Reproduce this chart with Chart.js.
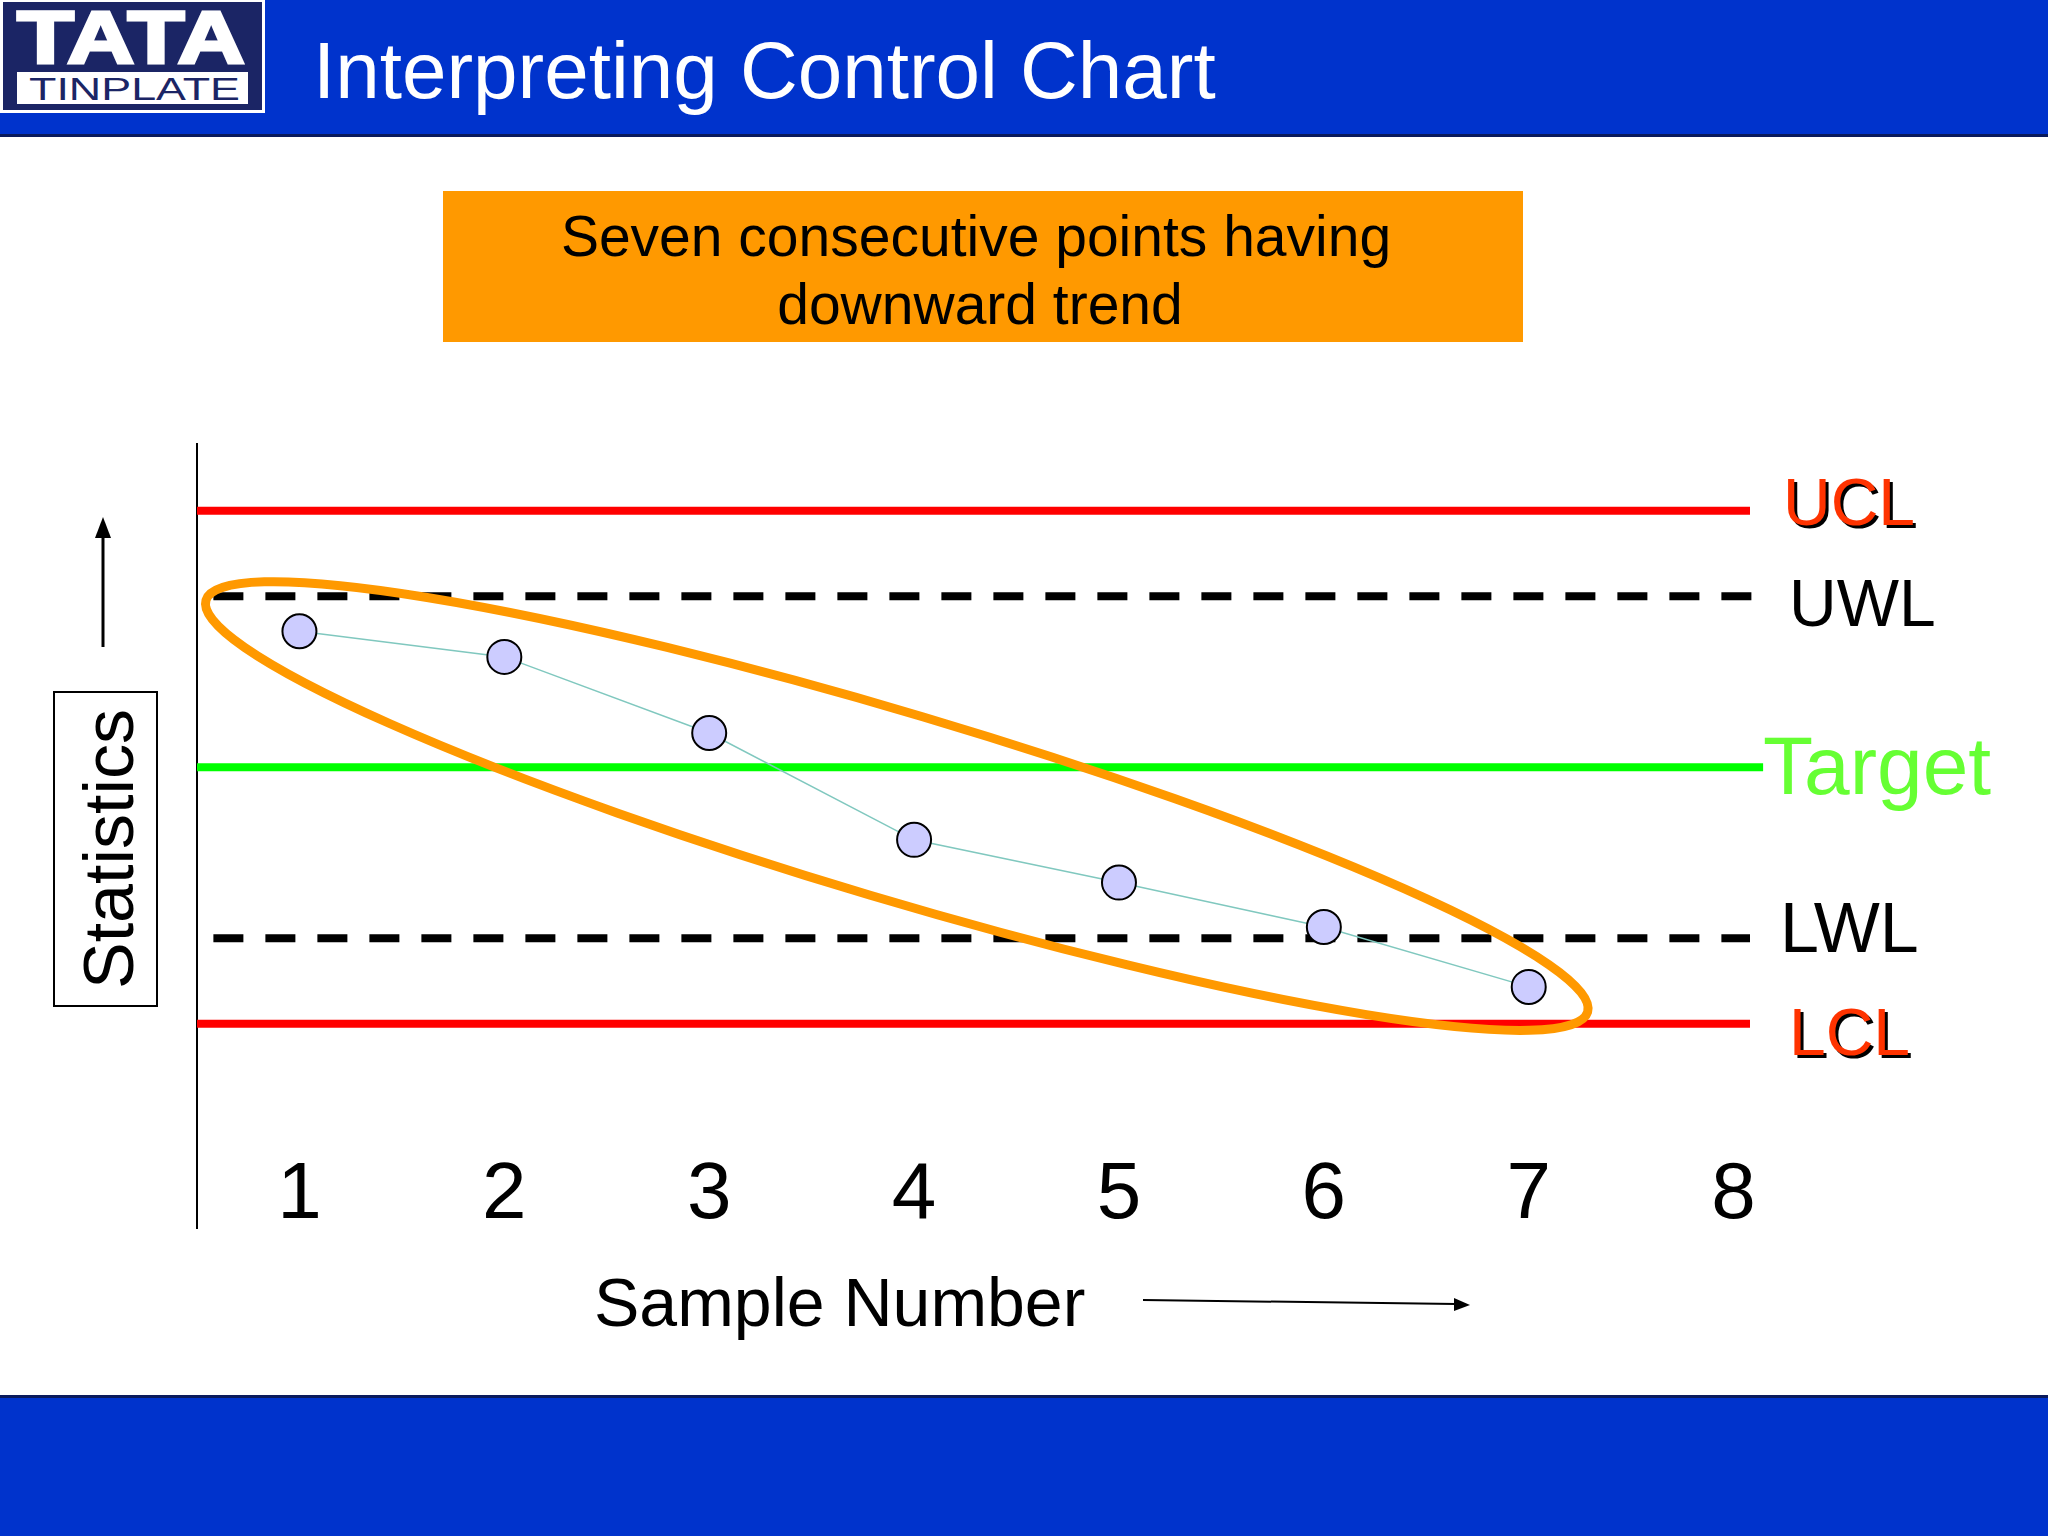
<!DOCTYPE html>
<html>
<head>
<meta charset="utf-8">
<title>Interpreting Control Chart</title>
<script src="https://cdn.jsdelivr.net/npm/chart.js@4.4.1/dist/chart.umd.min.js"></script>
<style>
  body { margin: 0; width: 2048px; height: 1536px; position: relative; overflow: hidden; background: #fff; }
  #slide, #chart { position: absolute; left: 0; top: 0; }
  text { font-family: "Liberation Sans", Arial, sans-serif; }
</style>
</head>
<body>
<svg id="slide" width="2048" height="1536">
  <!-- header band -->
  <rect x="0" y="0" width="2048" height="134" fill="#0033cc"/>
  <rect x="0" y="134" width="2048" height="3" fill="#0a1a5c"/>
  <!-- logo -->
  <rect x="0" y="0" width="265" height="113" fill="#fff"/>
  <rect x="3" y="2" width="259" height="108" fill="#1b2565"/>
  <text x="17" y="63" font-size="74" font-weight="bold" fill="#fff" stroke="#fff" stroke-width="3"
        textLength="228" lengthAdjust="spacingAndGlyphs">TATA</text>
  <rect x="17" y="72" width="231" height="32" fill="#fff"/>
  <text x="29" y="100" font-size="31" fill="#1b2565" textLength="211" lengthAdjust="spacingAndGlyphs">TINPLATE</text>
  <text x="313" y="98" font-size="80" fill="#fff">Interpreting Control Chart</text>

  <!-- note box -->
  <rect x="443" y="191" width="1080" height="151" fill="#ff9900"/>
  <text x="976" y="256" font-size="57" fill="#000" text-anchor="middle">Seven consecutive points having</text>
  <text x="980" y="324" font-size="57" fill="#000" text-anchor="middle">downward trend</text>

  <!-- axis captions -->
  <line x1="103" y1="647" x2="103" y2="534" stroke="#000" stroke-width="3"/>
  <polygon points="103,517 95,538 111,538" fill="#000"/>
  <rect x="54" y="692" width="103" height="314" fill="none" stroke="#000" stroke-width="2"/>
  <text transform="translate(133,849) rotate(-90)" font-size="70" fill="#000" text-anchor="middle">Statistics</text>
  <text x="594" y="1326" font-size="68" fill="#000">Sample Number</text>
  <line x1="1143" y1="1300" x2="1456" y2="1304" stroke="#000" stroke-width="2"/>
  <polygon points="1470,1305 1454,1298 1454,1311" fill="#000"/>

  <!-- footer band -->
  <rect x="0" y="1395" width="2048" height="3" fill="#0a1a5c"/>
  <rect x="0" y="1398" width="2048" height="138" fill="#0033cc"/>
</svg>
<canvas id="chart" width="2048" height="1536"></canvas>
<script>
// sample numbers on the x axis and the plotted statistic for samples 1..7
const sampleNumbers = [1, 2, 3, 4, 5, 6, 7, 8];
const sampleValues = [1.59, 1.29, 0.40, -0.85, -1.35, -1.87, -2.57];

// control / warning limits (in sigma units around the target)
const limitNames = ['UCL', 'UWL', 'Target', 'LWL', 'LCL'];
const limitValues = [3, 2, 0, -2, -3];

const xMin = 0.50, xMax = 8.08;
const yMin = -5.39, yMax = 3.78;

// look of each limit line and its label
const limitStyles = [
  { color: '#ff0000', dash: [], startPad: 0, endPad: 0, text: '#ff3300', shadow: true, size: 66, gap: 33, dy: 14 },
  { color: '#000000', dash: [30, 22], startPad: 0.08, endPad: 0.083, text: '#000', shadow: false, size: 66, gap: 22, dy: 30 },
  { color: '#00ff00', dash: [], startPad: 0, endPad: 0.064, text: '#66ff33', shadow: false, size: 82, gap: 0, dy: 27 },
  { color: '#000000', dash: [30, 22], startPad: 0.08, endPad: 0, text: '#000', shadow: false, size: 70, gap: 30, dy: 14 },
  { color: '#ff0000', dash: [], startPad: 0, endPad: 0, text: '#ff3300', shadow: true, size: 66, gap: 39, dy: 31 }
];

const limitSets = limitNames.map((name, i) => {
  const st = limitStyles[i];
  return {
    label: name,
    data: [{ x: xMin + st.startPad, y: limitValues[i] }, { x: xMax + st.endPad, y: limitValues[i] }],
    borderColor: st.color,
    borderWidth: 8,
    borderDash: st.dash,
    borderCapStyle: 'butt',
    pointRadius: 0,
    clip: false,
    order: 2
  };
});

const sampleSet = {
  label: 'Samples',
  data: sampleValues.map((v, i) => ({ x: sampleNumbers[i], y: v })),
  borderColor: '#80c8bf',
  borderWidth: 1.5,
  pointRadius: 17,
  pointBackgroundColor: '#ccccff',
  pointBorderColor: '#000',
  pointBorderWidth: 2,
  clip: false,
  order: 1
};

// right-hand labels for the limit lines
const limitLabels = {
  id: 'limitLabels',
  afterDatasetsDraw(chart) {
    const { ctx } = chart;
    const x = chart.scales.x, y = chart.scales.y;
    ctx.save();
    ctx.textBaseline = 'alphabetic';
    limitNames.forEach((name, i) => {
      const st = limitStyles[i];
      const px = x.getPixelForValue(xMax + st.endPad) + st.gap;
      const py = y.getPixelForValue(limitValues[i]) + st.dy;
      ctx.font = st.size + 'px "Liberation Sans", Arial, sans-serif';
      if (st.shadow) {
        ctx.fillStyle = '#000';
        ctx.fillText(name, px + 3, py + 3);
      }
      ctx.fillStyle = st.text;
      ctx.fillText(name, px, py);
    });
    ctx.restore();
  }
};

// orange ring around the run of points
const trendRing = {
  id: 'trendRing',
  afterDatasetsDraw(chart) {
    const pts = chart.getDatasetMeta(limitSets.length).data;
    if (!pts.length) return;
    const a = pts[0], b = pts[pts.length - 1];
    const ang = Math.atan2(b.y - a.y, b.x - a.x);
    const half = Math.hypot(b.x - a.x, b.y - a.y) / 2;
    const cx = (a.x + b.x) / 2 - 18 * Math.cos(ang);
    const cy = (a.y + b.y) / 2 - 18 * Math.sin(ang) + 2;
    const { ctx } = chart;
    ctx.save();
    ctx.strokeStyle = '#ff9900';
    ctx.lineWidth = 9;
    ctx.beginPath();
    ctx.ellipse(cx, cy, half + 81, 93, ang + 0.008, 0, Math.PI * 2);
    ctx.stroke();
    ctx.restore();
  }
};

new Chart(document.getElementById('chart'), {
  type: 'line',
  data: { datasets: [...limitSets, sampleSet] },
  options: {
    responsive: false,
    animation: false,
    layout: { padding: { left: 197, right: 298, top: 444, bottom: 308 } },
    plugins: { legend: { display: false }, tooltip: { enabled: false } },
    scales: {
      x: {
        type: 'linear',
        min: xMin,
        max: xMax,
        position: { y: -4.45 },
        grid: { display: false, drawTicks: false },
        border: { display: false },
        afterBuildTicks: (scale) => { scale.ticks = sampleNumbers.map(v => ({ value: v })); },
        ticks: {
          autoSkip: false,
          maxRotation: 0,
          padding: 0,
          color: '#000',
          font: { size: 80, family: '"Liberation Sans", Arial, sans-serif' },
          callback: (v) => String(v)
        }
      },
      y: {
        type: 'linear',
        min: yMin,
        max: yMax,
        position: { x: xMin },
        grid: { display: false, drawTicks: false },
        border: { color: '#000', width: 2 },
        ticks: { display: false }
      }
    }
  },
  plugins: [limitLabels, trendRing]
});
</script>
</body>
</html>
